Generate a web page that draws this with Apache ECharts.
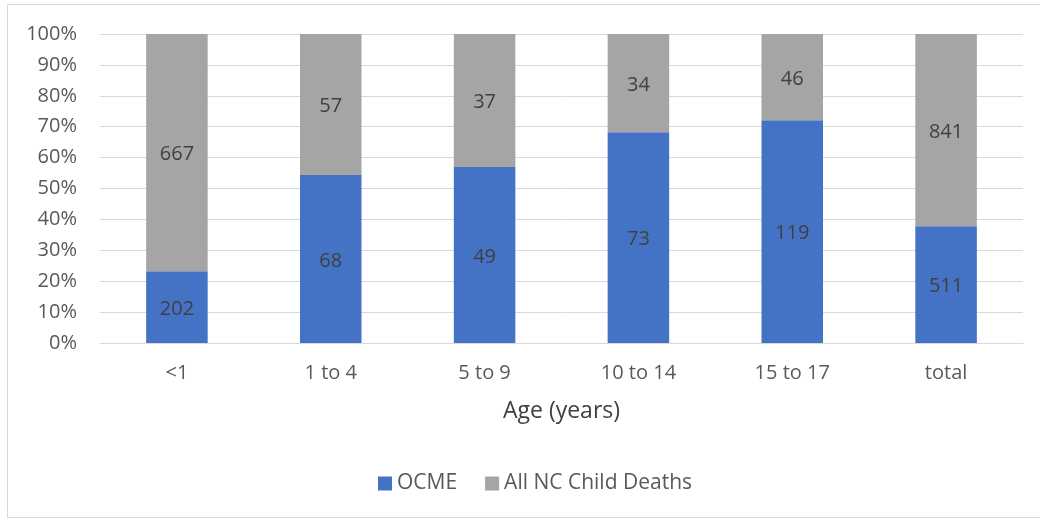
<!DOCTYPE html>
<html>
<head>
<meta charset="utf-8">
<script src="https://cdn.jsdelivr.net/npm/echarts@6/dist/echarts.min.js"></script>
<style>
  html, body { margin: 0; padding: 0; background: #fff; }
  #frame { position: absolute; left: 7px; top: 4px; width: 1040px; height: 514px; border: 1px solid #d9d9d9; box-sizing: border-box; }
  #chart { width: 1040px; height: 521px; }
</style>
</head>
<body>
<div id="frame"></div>
<div id="chart"></div>
<script>
// Age groups
const categories = ['<1', '1 to 4', '5 to 9', '10 to 14', '15 to 17', 'total'];
// Deaths reviewed by the OCME
const ocme = [202, 68, 49, 73, 119, 511];
// Remaining NC child deaths
const allNC = [667, 57, 37, 34, 46, 841];

const totals = ocme.map((v, i) => v + allNC[i]);
const share = arr => arr.map((v, i) => ({ value: v / totals[i] * 100, raw: v }));

const FONT = 'Open Sans';
const TXT = '#595959';

const chart = echarts.init(document.getElementById('chart'), null, { renderer: 'canvas' });
chart.setOption({
  animation: false,
  textStyle: { fontFamily: FONT },
  grid: { left: 100, right: 17, top: 34, bottom: 178, containLabel: false },
  xAxis: {
    type: 'category',
    data: categories,
    axisLine: { lineStyle: { color: '#d9d9d9', width: 1 } },
    axisTick: { show: false },
    axisLabel: { color: TXT, fontSize: 20, fontFamily: FONT, margin: 20 },
    name: 'Age (years)',
    nameLocation: 'middle',
    nameGap: 57,
    nameTextStyle: { color: '#404040', fontSize: 23, fontFamily: FONT }
  },
  yAxis: {
    type: 'value',
    min: 0, max: 100, interval: 10,
    axisLine: { show: false },
    axisTick: { show: false },
    splitLine: { lineStyle: { color: '#d9d9d9', width: 1 } },
    axisLabel: { color: TXT, fontSize: 20, fontFamily: FONT, margin: 23, formatter: '{value}%' }
  },
  legend: {
    bottom: 22,
    left: 373,
    itemWidth: 14, itemHeight: 14,
    itemGap: 28,
    icon: 'rect',
    textStyle: { color: TXT, fontSize: 21, fontFamily: FONT },
    data: ['OCME', 'All NC Child Deaths']
  },
  series: [
    {
      name: 'OCME', type: 'bar', stack: 'a', barWidth: '40%',
      itemStyle: { color: '#4472C4' },
      label: { show: true, position: 'inside', color: '#404040', fontSize: 20, fontFamily: FONT,
               offset: [0, 2], formatter: p => p.data.raw },
      data: share(ocme)
    },
    {
      name: 'All NC Child Deaths', type: 'bar', stack: 'a', barWidth: '40%',
      itemStyle: { color: '#A5A5A5' },
      label: { show: true, position: 'inside', color: '#404040', fontSize: 20, fontFamily: FONT,
               offset: [0, 2], formatter: p => p.data.raw },
      data: share(allNC)
    }
  ]
});
</script>
</body>
</html>
